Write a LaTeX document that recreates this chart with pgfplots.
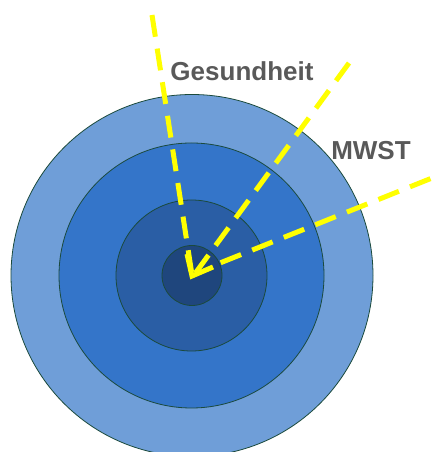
\documentclass[border=0pt]{standalone}
\usepackage{pgfplots}
\pgfplotsset{compat=1.18}
\usepackage{fontspec}
\setmainfont{Liberation Sans}
\definecolor{ringA}{HTML}{6F9ED8}
\definecolor{ringB}{HTML}{3475C9}
\definecolor{ringC}{HTML}{2A5EA5}
\definecolor{ringD}{HTML}{1F467D}
\definecolor{ringline}{HTML}{1B4A3C}
\definecolor{labgray}{HTML}{595959}
\definecolor{yel}{HTML}{FFFF00}
\begin{document}
\begin{tikzpicture}
\begin{axis}[width=433pt,height=452pt,scale only axis,hide axis,
  xmin=0,xmax=433,ymin=0,ymax=452,clip=true,clip marker paths=true]
% rings: centre and radius (px)
\addplot[only marks,mark=*,mark size=181pt,mark options={fill=ringA,draw=ringline,line width=0.8pt}] coordinates {(192,176.5)};
\addplot[only marks,mark=*,mark size=132.5pt,mark options={fill=ringB,draw=ringline,line width=0.8pt}] coordinates {(191.5,176.5)};
\addplot[only marks,mark=*,mark size=75.5pt,mark options={fill=ringC,draw=ringline,line width=0.8pt}] coordinates {(191.5,176.5)};
\addplot[only marks,mark=*,mark size=30pt,mark options={fill=ringD,draw=ringline,line width=0.8pt}] coordinates {(192,176.5)};
% dashed yellow lines
\addplot[yel,line width=5pt,dash pattern=on 22pt off 12pt] coordinates {(152,437) (192,177)};
\addplot[yel,line width=5pt,dash pattern=on 22pt off 12pt] coordinates {(349,389) (194,177)};
\addplot[yel,line width=5pt,dash pattern=on 22pt off 12pt] coordinates {(462,286) (215,187)};
% arrow head
\addplot[yel,line width=5pt,solid,miter limit=10] coordinates {(187,198) (192,176) (213,185)};
\node[text=labgray,font=\bfseries\fontsize{26}{30}\selectfont] at (axis cs:242,381) {Gesundheit};
\node[text=labgray,font=\bfseries\fontsize{26}{30}\selectfont] at (axis cs:371,301) {MWST};
\end{axis}
\pgfresetboundingbox
\path (current axis.south west) rectangle (current axis.north east);
\end{tikzpicture}
\end{document}
